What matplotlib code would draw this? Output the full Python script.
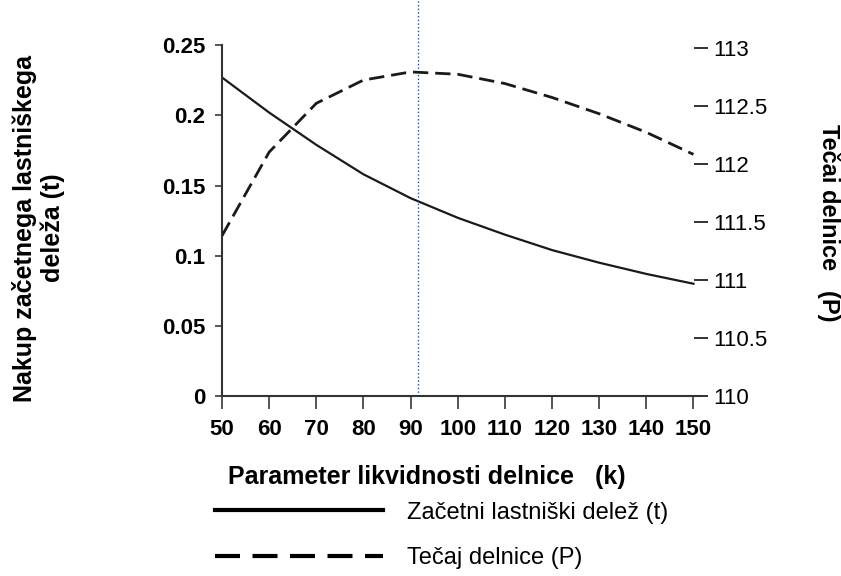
import matplotlib.pyplot as plt
from matplotlib.lines import Line2D

plt.rcParams['font.family'] = ['Liberation Sans', 'DejaVu Sans']

k = [50, 60, 70, 80, 90, 100, 110, 120, 130, 140, 150]
t = [0.227, 0.202, 0.179, 0.158, 0.141, 0.127, 0.115, 0.104, 0.095, 0.087, 0.080]
p = [111.38, 112.10, 112.52, 112.72, 112.79, 112.77, 112.69, 112.57, 112.43, 112.27, 112.08]
k_mark = 91.5

left_ticks = [0, 0.05, 0.1, 0.15, 0.2, 0.25]
left_labels = ['0', '0.05', '0.1', '0.15', '0.2', '0.25']
right_ticks = [110, 110.5, 111, 111.5, 112, 112.5, 113]
right_labels = ['110', '110.5', '111', '111.5', '112', '112.5', '113']
legend_labels = ['Začetni lastniški delež (t)', 'Tečaj delnice (P)']

fig = plt.figure(figsize=(8.41, 5.76), dpi=100)
ax = fig.add_axes([0.264, 0.3125, 0.569, 0.609])
ax2 = ax.twinx()

ax.plot(k, t, '-', color='#1a1a1a', lw=1.6)
ax2.plot(k, p, '--', color='#1a1a1a', lw=2.0, dashes=(5.5, 2.5))
# dotted marker line reaches up to the top edge of the figure
ax.axvline(k_mark, ymin=0, ymax=1.13, color='#2a4d9c', lw=1.0, ls=':', clip_on=False)

ax.set_xlim(50, 151.5)
ax.set_ylim(0, 0.25)
ax2.set_ylim(110, 113.02)

for s in ['top', 'right']:
    ax.spines[s].set_visible(False)
for s in ax2.spines:
    ax2.spines[s].set_visible(False)
for s in ['left', 'bottom']:
    ax.spines[s].set_color('#333333')
    ax.spines[s].set_linewidth(1.5)

ax.set_xticks(k)
ax.set_xticklabels([str(v) for v in k], fontsize=16, fontweight='bold')
ax.set_yticks(left_ticks)
ax.set_yticklabels(left_labels, fontsize=16, fontweight='bold')
ax.tick_params(axis='x', length=9.5, width=1.4, color='#555555', pad=7)
ax.tick_params(axis='y', length=5, width=1.4, color='#555555', pad=7)

ax2.set_yticks(right_ticks)
ax2.set_yticklabels(right_labels, fontsize=16)
ax2.tick_params(axis='y', direction='inout', length=10, width=1.4, color='#333333', pad=4)

fig.text(427 / 841, 1 - 477 / 576, 'Parameter likvidnosti delnice   (k)',
         fontsize=18, fontweight='bold', ha='center', va='center')
fig.text(0.046, 0.604, 'Nakup začetnega lastniškega\ndeleža (t)', rotation=90,
         fontsize=18, fontweight='bold', ha='center', va='center')
fig.text(0.985, 0.613, 'Tečai delnice   (P)', rotation=-90,
         fontsize=17, fontweight='bold', ha='center', va='center')

handles = [Line2D([], [], color='black', lw=3),
           Line2D([], [], color='black', lw=3, ls='--', dashes=(6, 3))]
fig.legend(handles, legend_labels, loc='upper left', bbox_to_anchor=(0.256, 0.129),
           frameon=False, fontsize=17, handlelength=7.1, handletextpad=1.0,
           labelspacing=1.0, borderaxespad=0, borderpad=0)

fig.savefig('out.png', dpi=100)
